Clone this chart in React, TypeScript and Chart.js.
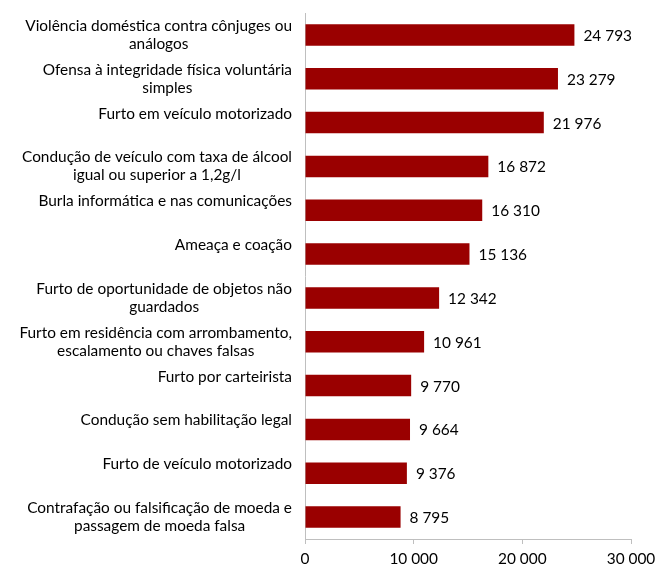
import React, { useEffect, useRef } from "react";
import { Chart, registerables } from "chart.js";

Chart.register(...registerables);

const categories: string[][] = [
  ["Violência doméstica contra cônjuges ou", "análogos"],
  ["Ofensa à integridade física voluntária", "simples"],
  ["Furto em veículo motorizado"],
  ["Condução de veículo com taxa de álcool", "igual ou superior a 1,2g/l"],
  ["Burla informática e nas comunicações"],
  ["Ameaça e coação"],
  ["Furto de oportunidade de objetos não", "guardados"],
  ["Furto em residência com arrombamento,", "escalamento ou chaves falsas"],
  ["Furto por carteirista"],
  ["Condução sem habilitação legal"],
  ["Furto de veículo motorizado"],
  ["Contrafação ou falsificação de moeda e", "passagem de moeda falsa"],
];

const values: number[] = [24793, 23279, 21976, 16872, 16310, 15136, 12342, 10961, 9770, 9664, 9376, 8795];

const xTicks: number[] = [0, 10000, 20000, 30000];

const FONT_FAMILY = "Lato, 'Open Sans', sans-serif";
const FONT_SIZE = 15.4;

const fmt = (v: number) => String(v).replace(/\B(?=(\d{3})+(?!\d))/g, " ");

const labelPlugin = {
  id: "customLabels",
  afterDatasetsDraw(chart: any) {
    const ctx = chart.ctx;
    const yScale = chart.scales.y;
    const meta = chart.getDatasetMeta(0);
    ctx.save();
    ctx.font = `${FONT_SIZE}px ${FONT_FAMILY}`;
    ctx.fillStyle = "#000000";
    ctx.textBaseline = "middle";
    const lineH = 18;
    const rightEdge = 292;
    categories.forEach((lines, i) => {
      const yc = yScale.getPixelForValue(i);
      const widths = lines.map((l) => ctx.measureText(l).width);
      const maxW = Math.max(...widths);
      const blockCenter = rightEdge - maxW / 2;
      const yStart = yc - lineH / 2;
      ctx.textAlign = "center";
      lines.forEach((l, j) => {
        ctx.fillText(l, blockCenter, yStart + j * lineH);
      });
    });
    ctx.textAlign = "left";
    meta.data.forEach((bar: any, i: number) => {
      ctx.fillText(fmt(values[i]), bar.x + 9, bar.y + 1);
    });
    ctx.restore();
  },
};

export default function App() {
  const canvasRef = useRef<HTMLCanvasElement | null>(null);

  useEffect(() => {
    if (!canvasRef.current) return;
    const chart = new Chart(canvasRef.current, {
      type: "bar",
      data: {
        labels: categories.map((c) => c.join(" ")),
        datasets: [
          {
            data: values,
            backgroundColor: "#9a0000",
            borderWidth: 0,
            barPercentage: 0.49,
            categoryPercentage: 1,
          },
        ],
      },
      options: {
        indexAxis: "y",
        animation: false,
        responsive: false,
        maintainAspectRatio: false,
        layout: { padding: { top: 13, right: 26, left: 0, bottom: 0 } },
        plugins: {
          legend: { display: false },
          tooltip: { enabled: false },
        },
        scales: {
          x: {
            min: 0,
            max: 30000,
            afterBuildTicks: (s: any) => {
              s.ticks = xTicks.map((v) => ({ value: v }));
            },
            ticks: {
              callback: (v: any) => fmt(Number(v)),
              font: { family: FONT_FAMILY, size: FONT_SIZE },
              color: "#000000",
              padding: 6,
              maxRotation: 0,
            },
            grid: {
              drawOnChartArea: false,
              drawTicks: true,
              tickLength: 5,
              color: "#bfbfbf",
            },
            border: { color: "#bfbfbf" },
            afterFit: (s: any) => {
              s.height = 26;
              s.paddingLeft = 0;
              s.paddingRight = 0;
            },
          },
          y: {
            ticks: { display: false },
            grid: { drawOnChartArea: false, drawTicks: false, color: "#bfbfbf" },
            border: { color: "#bfbfbf" },
            afterFit: (s: any) => {
              s.width = 305;
              s.paddingTop = 0;
              s.paddingBottom = 0;
            },
          },
        },
      },
      plugins: [labelPlugin],
    });
    return () => chart.destroy();
  }, []);

  return (
    <div style={{ position: "absolute", left: 0, top: 0, width: 657, height: 565, background: "#fff" }}>
      <canvas ref={canvasRef} width={657} height={565} />
    </div>
  );
}
